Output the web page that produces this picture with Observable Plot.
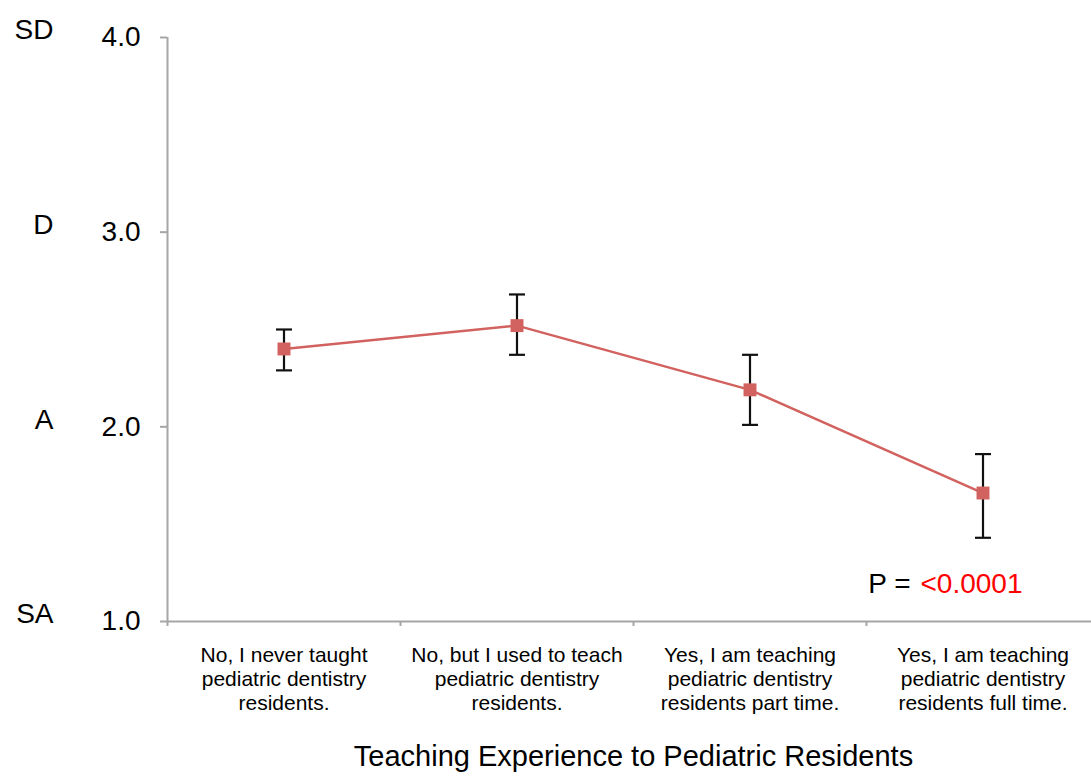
<!DOCTYPE html>
<html><head><meta charset="utf-8">
<script src="https://cdn.jsdelivr.net/npm/d3@7"></script>
<script src="https://cdn.jsdelivr.net/npm/@observablehq/plot@0.6"></script>
<style>html,body{margin:0;padding:0;background:#fff;overflow:hidden}</style>
</head><body><div id="chart"></div>
<script>
const categories = [
  "No, I never taught\npediatric dentistry\nresidents.",
  "No, but I used to teach\npediatric dentistry\nresidents.",
  "Yes, I am teaching\npediatric dentistry\nresidents part time.",
  "Yes, I am teaching\npediatric dentistry\nresidents full time."
];
const means = [2.40, 2.52, 2.19, 1.66];
const lower = [2.29, 2.37, 2.01, 1.43];
const upper = [2.50, 2.68, 2.37, 1.86];
const yTicks = [1, 2, 3, 4];
const likertLabels = ["SA", "A", "D", "SD"];
const xTitle = "Teaching Experience to Pediatric Residents";
const pLabel = "P =";
const pValue = "<0.0001";

const data = categories.map((c, i) => ({i, c, mean: means[i], lo: lower[i], hi: upper[i]}));
const boundaries = d3.range(categories.length + 1).map(i => i - 0.5);
const centers = d3.range(categories.length);

const capSymbol = {draw(ctx, size) { const w = Math.sqrt(size) / 2; ctx.moveTo(-w, 0); ctx.lineTo(w, 0); }};
const lineColor = "#d2625f";
const axisColor = "#a6a6a6";

const chart = Plot.plot({
  width: 1091,
  height: 776,
  marginLeft: 167,
  marginRight: 0,
  marginTop: 37,
  marginBottom: 155,
  style: {fontFamily: "'Liberation Sans', Arial, Helvetica, sans-serif", background: "#fff", color: "#000"},
  x: {type: "linear", domain: [-0.5, 3.5], range: [167, 1099]},
  y: {domain: [1, 4]},
  marks: [
    Plot.ruleY([1], {stroke: axisColor, strokeWidth: 2}),
    Plot.ruleX([-0.5], {y1: 1, y2: 4, stroke: axisColor, strokeWidth: 2}),
    Plot.axisY(yTicks, {tickSize: 7, tickPadding: 20, tickFormat: d3.format(".1f"), stroke: axisColor, strokeWidth: 2, fontSize: 28, label: null}),
    Plot.axisY(yTicks, {tickSize: 0, tickPadding: 114, tickFormat: d => likertLabels[d - 1], fontSize: 28, dy: -7, label: null}),
    Plot.axisX(boundaries, {tickSize: 5, tickFormat: () => "", stroke: axisColor, strokeWidth: 2, label: null}),
    Plot.axisX(centers, {tickSize: 0, tickPadding: 23, tickFormat: i => categories[i], fontSize: 21, lineHeight: 24 / 21, label: null}),
    Plot.ruleX(data, {x: "i", y1: "lo", y2: "hi", stroke: "#111", strokeWidth: 2.2}),
    Plot.dot(data, {x: "i", y: "lo", symbol: capSymbol, r: 9, stroke: "#111", strokeWidth: 2.2, fill: "none"}),
    Plot.dot(data, {x: "i", y: "hi", symbol: capSymbol, r: 9, stroke: "#111", strokeWidth: 2.2, fill: "none"}),
    Plot.line(data, {x: "i", y: "mean", stroke: lineColor, strokeWidth: 2.5}),
    Plot.dot(data, {x: "i", y: "mean", symbol: "square", r: 7.3, fill: lineColor, stroke: "none"}),
    Plot.text([xTitle], {text: d => d, frameAnchor: "bottom", dx: 4, dy: 135, fontSize: 29, lineAnchor: "middle"}),
    Plot.text([pLabel], {text: d => d, frameAnchor: "bottom-right", textAnchor: "end", dx: -181, dy: -29, lineAnchor: "bottom", fontSize: 28}),
    Plot.text([pValue], {text: d => d, frameAnchor: "bottom-right", textAnchor: "start", dx: -171, dy: -29, lineAnchor: "bottom", fontSize: 28, fill: "#ff0000"})
  ]
});
document.getElementById("chart").append(chart);
</script>
</body></html>
